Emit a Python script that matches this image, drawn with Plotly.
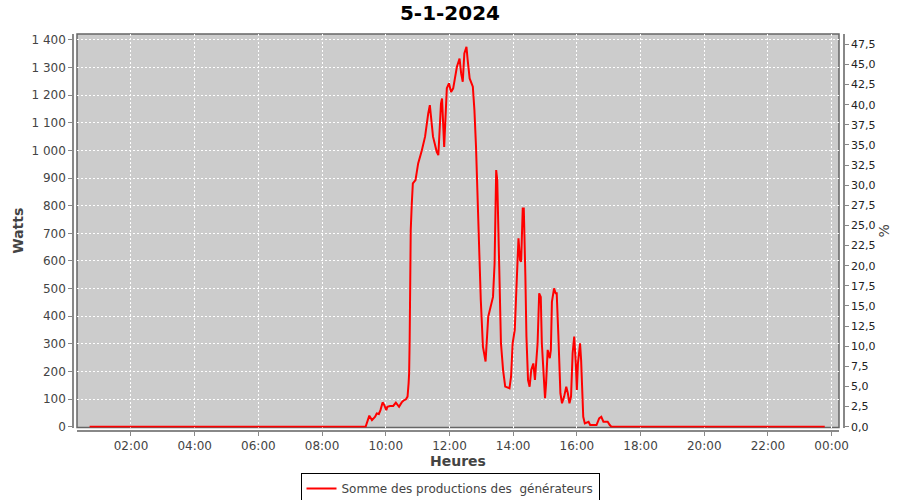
import plotly.graph_objects as go

# ---------------- data ----------------
DAY = "2024-01-05"
NEXT_DAY = "2024-01-06"
title_text = "5-1-2024"
series_name = "Somme des productions des \u00a0générateurs"

times = [
    "00:42", "09:22", "09:29", "09:34", "09:40", "09:43", "09:47", "09:50", "09:54", "09:57",
    "10:01", "10:03", "10:08", "10:14", "10:19", "10:22", "10:25", "10:30", "10:33", "10:38",
    "10:41", "10:43", "10:44", "10:45", "10:47", "10:49", "10:51", "10:56", "11:01", "11:08",
    "11:14", "11:20", "11:23", "11:29", "11:36", "11:39", "11:44", "11:46", "11:50", "11:55",
    "11:59", "12:03", "12:07", "12:14", "12:19", "12:22", "12:25", "12:28", "12:32", "12:34",
    "12:38", "12:44", "12:47", "12:50", "12:53", "12:56", "12:59", "13:03", "13:08", "13:13",
    "13:17", "13:22", "13:25", "13:28", "13:30", "13:33", "13:37", "13:41", "13:45", "13:53",
    "13:56", "13:59", "14:03", "14:06", "14:10", "14:13", "14:15", "14:18", "14:20", "14:23",
    "14:25", "14:28", "14:31", "14:34", "14:38", "14:41", "14:46", "14:49", "14:52", "14:54",
    "14:58", "15:00", "15:02", "15:05", "15:09", "15:11", "15:13", "15:17", "15:20", "15:22",
    "15:25", "15:29", "15:32", "15:36", "15:40", "15:43", "15:46", "15:49", "15:52", "15:55",
    "15:58", "16:00", "16:02", "16:06", "16:08", "16:10", "16:12", "16:15", "16:22", "16:25",
    "16:37", "16:42", "16:46", "16:50", "16:54", "16:58", "17:02", "17:05", "23:47",
]
watts = [
    0, 0, 40, 24, 36, 48, 46, 60, 88, 79,
    60, 72, 75, 75, 87, 79, 72, 88, 94, 99,
    109, 157, 194, 314, 711, 808, 881, 893, 953, 1001,
    1050, 1134, 1164, 1050, 995, 983, 1170, 1188, 1013, 1225,
    1243, 1212, 1225, 1303, 1333, 1279, 1249, 1351, 1375, 1333,
    1261, 1231, 1146, 1013, 808, 591, 459, 290, 236, 398,
    434, 470, 591, 929, 893, 579, 302, 205, 145, 139,
    181, 302, 350, 495, 682, 603, 597, 790, 790, 543,
    326, 169, 145, 205, 229, 169, 302, 483, 470, 302,
    157, 103, 157, 278, 248, 278, 452, 501, 483, 483,
    338, 121, 85, 109, 145, 121, 85, 109, 266, 326,
    229, 133, 229, 302, 241, 109, 36, 12, 18, 6,
    6, 30, 36, 18, 18, 18, 6, 0, 0,
]

x_tick_times = [f"{DAY} {h:02d}:00" for h in (2, 4, 6, 8, 10, 12, 14, 16, 18, 20, 22)] + [f"{NEXT_DAY} 00:00"]
x_tick_labels = ["02:00", "04:00", "06:00", "08:00", "10:00", "12:00",
                 "14:00", "16:00", "18:00", "20:00", "22:00", "00:00"]

watt_ticks = [0, 100, 200, 300, 400, 500, 600, 700, 800, 900, 1000, 1100, 1200, 1300, 1400]
watt_labels = ["0", "100", "200", "300", "400", "500", "600", "700", "800", "900",
               "1 000", "1 100", "1 200", "1 300", "1 400"]

pct_ticks = [0.0, 2.5, 5.0, 7.5, 10.0, 12.5, 15.0, 17.5, 20.0, 22.5,
             25.0, 27.5, 30.0, 32.5, 35.0, 37.5, 40.0, 42.5, 45.0, 47.5]
pct_labels = ["0,0", "2,5", "5,0", "7,5", "10,0", "12,5", "15,0", "17,5", "20,0", "22,5",
              "25,0", "27,5", "30,0", "32,5", "35,0", "37,5", "40,0", "42,5", "45,0", "47,5"]

# ---------------- figure ----------------
x_vals = [f"{DAY} {t}" for t in times]
FONT = "DejaVu Sans"

fig = go.Figure()
fig.add_trace(go.Scatter(
    x=x_vals, y=watts, mode="lines", name=series_name,
    line=dict(color="#ff0000", width=2),
))
# empty trace to carry the right-hand percentage axis
fig.add_trace(go.Scatter(
    x=[x_vals[0]], y=[None], yaxis="y2", mode="lines",
    showlegend=False, hoverinfo="skip",
))

W, H = 900, 500
ml, mr, mt, mb = 73, 56, 34, 69
pw, ph = W - ml - mr, H - mt - mb
x_dom = [(77 - ml) / pw, (839 - ml) / pw]
y_dom = [(mt + ph - 427.5) / ph, 1]

axis_col = "#888888"
tick_font = dict(family=FONT, size=12, color="#444444")

fig.update_layout(
    template="none",
    width=W, height=H,
    margin=dict(l=ml, r=mr, t=mt, b=mb, autoexpand=False),
    paper_bgcolor="white",
    plot_bgcolor="#cccccc",
    font=dict(family=FONT),
    title=dict(text="<b>" + title_text + "</b>", x=0.5, xanchor="center",
               y=1 - 13 / H, yanchor="middle", yref="container",
               font=dict(family=FONT, size=20, color="#000000")),
    xaxis=dict(
        type="date", domain=x_dom, anchor="free", position=0, automargin=False,
        range=[f"{DAY} 00:18:17", f"{NEXT_DAY} 00:13:50"],
        tickvals=x_tick_times, ticktext=x_tick_labels,
        showgrid=True, gridcolor="white", griddash="2px,2px", gridwidth=1,
        zeroline=False,
        showline=True, linecolor=axis_col, linewidth=1.5,
        ticks="outside", ticklen=4, tickcolor=axis_col,
        tickfont=tick_font,
        title=dict(text="<b>Heures</b>", standoff=2,
                   font=dict(family=FONT, size=14, color="#444444")),
    ),
    yaxis=dict(
        domain=y_dom, anchor="free", position=0, automargin=False,
        range=[-2.9, 1421.7],
        tickvals=watt_ticks, ticktext=watt_labels,
        showgrid=True, gridcolor="white", griddash="2px,2px", gridwidth=1,
        zeroline=False,
        showline=True, linecolor=axis_col, linewidth=1.5,
        ticks="outside", ticklen=4, tickcolor=axis_col,
        tickfont=tick_font,
        title=dict(text="<b>Watts</b>", standoff=4,
                   font=dict(family=FONT, size=14, color="#444444")),
    ),
    yaxis2=dict(
        overlaying="y", side="right", anchor="free", position=1, automargin=False,
        range=[-0.1, 48.78],
        tickvals=pct_ticks, ticktext=pct_labels,
        showgrid=False, zeroline=False,
        showline=True, linecolor=axis_col, linewidth=1.5,
        ticks="outside", ticklen=4, tickcolor=axis_col,
        tickfont=dict(family=FONT, size=11, color="#222222"),
        title=dict(text="%", standoff=4,
                   font=dict(family=FONT, size=14, color="#444444")),
    ),
    legend=dict(
        orientation="h", x=(450 - ml) / pw, xanchor="center",
        y=-(473 - (mt + ph)) / ph, yanchor="top",
        bordercolor="#000000", borderwidth=1, bgcolor="white",
        font=dict(family=FONT, size=12, color="#444444"),
        itemwidth=30,
    ),
    showlegend=True,
)

# plot area border
fig.add_shape(type="rect", xref="paper", yref="paper",
              x0=x_dom[0], x1=x_dom[1], y0=y_dom[0], y1=y_dom[1],
              line=dict(color="#666666", width=1.5), fillcolor="rgba(0,0,0,0)",
              layer="below")

fig.write_html("out.html", config={"displayModeBar": False},
               post_script="document.body.style.margin='0';document.body.style.padding='0';")
